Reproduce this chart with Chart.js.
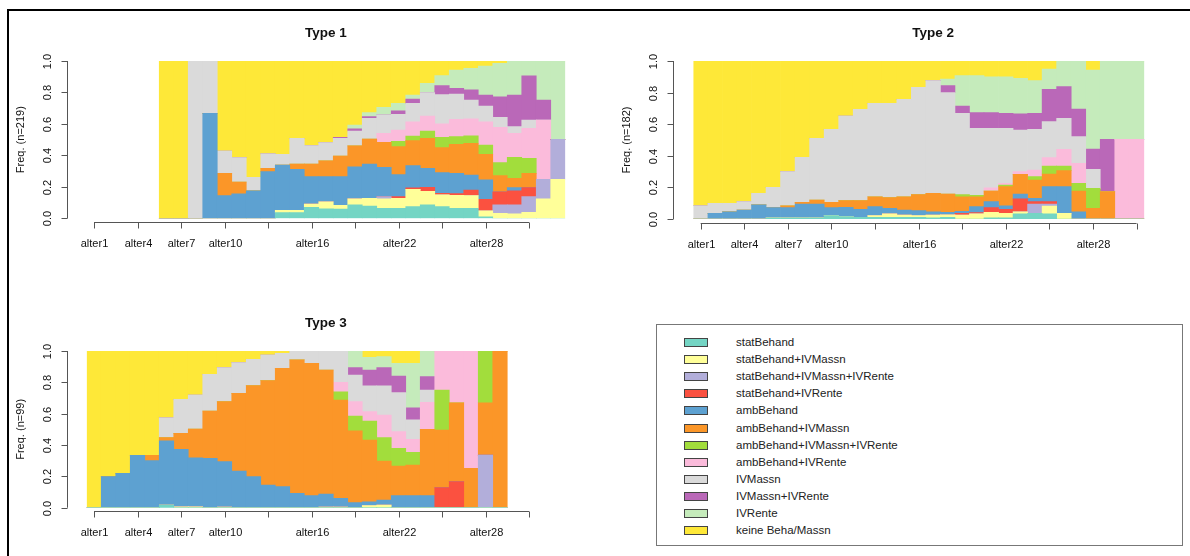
<!DOCTYPE html>
<html>
<head>
<meta charset="utf-8">
<script src="https://cdn.jsdelivr.net/npm/chart.js@4.4.1/dist/chart.umd.min.js"></script>
<style>
  body { margin: 0; width: 1190px; height: 556px; position: relative; background: #fff; overflow: hidden;
         font-family: "Liberation Sans", Arial, sans-serif; }
  #frame { position: absolute; left: 7px; top: 9px; right: -5px; bottom: -5px;
           border-top: 2px solid #000; border-left: 2px solid #000; }
  canvas { position: absolute; }
  #legend { position: absolute; left: 656px; top: 324px; width: 527px; height: 222px;
            border: 1px solid #777; box-sizing: border-box; }
  .item { position: absolute; left: 0; height: 16px; width: 100%; }
  .sw { position: absolute; left: 27px; top: 4px; width: 22px; height: 7px; border: 1px solid #444; }
  .tx { position: absolute; left: 79px; top: 0; font-size: 11.5px; line-height: 16px; color: #222; white-space: nowrap; }
</style>
</head>
<body>
<div id="frame"></div>
<canvas id="c1" width="595" height="280" style="left:0;top:0"></canvas>
<canvas id="c2" width="595" height="280" style="left:595px;top:0"></canvas>
<canvas id="c3" width="595" height="266" style="left:0;top:290px"></canvas>
<div id="legend"></div>

<script>
const positions = Array.from({length: 33}, (_, i) => 'alter' + (i + 1));
const shownLabels = ['alter1', 'alter4', 'alter7', 'alter10', 'alter16', 'alter22', 'alter28'];

const states = ['statBehand', 'statBehand+IVMassn', 'statBehand+IVMassn+IVRente', 'statBehand+IVRente',
  'ambBehand', 'ambBehand+IVMassn', 'ambBehand+IVMassn+IVRente', 'ambBehand+IVRente',
  'IVMassn', 'IVMassn+IVRente', 'IVRente', 'keine Beha/Massn'];
const stateColours = ['#74D5C4', '#FFFF99', '#B2AEDA', '#FB5140', '#5DA1D1', '#FB9628',
  '#A2DD3C', '#FBBBDB', '#DADADA', '#BA68B8', '#C5EBBB', '#FEE838'];

// Type 1 (n=219), positions alter1..alter33
const t1_stat         = [null,null,null,null,null, 0,0,0,0,0,0,0,0, .036,.036,.07,.06,.059,.085,.078,.064,.064,.074,.085,.074,.064,.064,.01, 0,0,0,0,0];
const t1_statMassn    = [null,null,null,null,null, 0,0,0,0,0,0,0,0, .014,.014,.021,.045,.024,.038,.049,.059,.063,.11,.087,.076,.082,.08,.037, .032,.028,.038,.123,.248];
const t1_statMassnRte = [null,null,null,null,null, 0,0,0,0,0,0,0,0,0,0,0,0,0,0,0, .015, 0,0,0,0,0,0,0, .053,.057,.1,.125,.254];
const t1_statRte      = [null,null,null,null,null, 0,0,0,0,0,0,0,0,0,0,0,0,0,0,0,0, .011,.009,.025,.009,.011,.036,.074,.084,.089,.057, 0,0];
const t1_amb          = [null,null,null,null,null, 0,0,0,.667,.144,.155,.174,.297,.289,.261,.174,.16,.182,.205,.218,.186,.14,.142,.121,.131,.129,.095,.123,0,.021,0,0,0];
const t1_ambMassn     = [null,null,null,null,null, 0,0,0,0, .142,.076,0,.021,0,.034,.08,.1,.131,.132,.159,.159,.178,.159,.19,.159,.184,.202,.163,.102,.059,.091, 0,0];
const t1_ambMassnRte  = [null,null,null,null,null, 0,0,0,0,0,0,0,0,0,0,0,0,0,0,0,0, .033,.029,.047,.066,.049,.048,.059,.083,.134,.095, 0,0];
const t1_ambRte       = [null,null,null,null,null, 0,0,0,0,0,0,0,0,0,0,0,0,0,0,0, .057,.072,.091,.095,.085,.11,.108,.148,.224,.152,.191,.377, 0];
const t1_massn        = [null,null,null,null,null, 0,0,1,.333,.142,.155,.086,.092,.068,.163,.117,.116,.112,.095,.132,.117,.1,.117,.149,.186,.161,.119,.1,.064,.043,.053,0,0];
const t1_massnRte     = [null,null,null,null,null, 0,0,0,0,0,0,0,0,0,0,0,0, .006,.013,.01,0,.023,.027,0,.057,.036,.064,.07,.131,.201,.28,.127, 0];
const t1_rente        = [null,null,null,null,null, 0,0,0,0,0,0,0,0,0,0,0,0,0, .025,.026,.048,.047,.026,.059,.064,.117,.137,.184,.212,.216,.095,.248,.498];
const t1_keine        = [null,null,null,null,null, 1,1,0,0,.572,.614,.74,.59,.593,.492,.538,.519,.486,.407,.328,.295,.269,.216,.142,.093,.057,.047,.032,.015,0,0,0,0];

// Type 2 (n=182)
const t2_stat         = [0,0,0,0,0,.008,.008,.008,.008,.021,.015,.01,.01,.01,.01,.01,.008,.01,0,0,.008,.008,.032,.036,.032,0,0,0,0,0,0,null,null];
const t2_statMassn    = [0,0,0,0,0,0,0,0,0,0,0,0, .011,.022,.015,.011,.017,.017,.025,.032,.034,.028,.014,0,.05,.036, 0,0,0,0,0,null,null];
const t2_statMassnRte = [0,0,0,0,0,0,0,0,0,0,0,0,0,0,0,0,0,0,0,0,0,0,0, .059,.013, 0,0,0,0,0,0,null,null];
const t2_statRte      = [0,0,0,0,0,0,0,0,0,0,0,0,0,0,0,0,0,0, .011,.008,.03,.025,.081,.015,.015, 0,0,0,0,0,0,null,null];
const t2_amb          = [0,.036,.046,.057,.089,.064,.064,.087,.087,.051,.059,.051,.057,.036,.032,.032,.021,.015,.013,.038,.038,.023,.031,.021,.095,.169,.046,0,0,0,0,null,null];
const t2_ambMassn     = [0,0,0,0,0,0, .012,.01,.025,.033,.042,.055,.063,.067,.084,.101,.116,.116,.092,.063,.067,.121,.125,.116,.08,.101,.131,.068,.173, 0,0,null,null];
const t2_ambMassnRte  = [0,0,0,0,0,0,0,0,0,0,0,0,0,0,0,0,0,0, .013,.009,0,.01,0,.021,.05,.029,.049,.126, 0,0,0,null,null];
const t2_ambRte       = [0,0,0,0,0,0,0,0,0,0,0,0,0,0,0,0,0,0,0,0, .021,.011,.017,.042,.053,.106,.126, 0,0,.504,.504,null,null];
const t2_massn        = [.084,.063,.053,.053,.073,.128,.216,.285,.39,.462,.536,.578,.591,.597,.616,.679,.714,.642,.515,.424,.376,.348,.263,.258,.228,.196,.169,.12,0,0,0,null,null];
const t2_massnRte     = [0,0,0,0,0,0,0,0,0,0,0,0,0,0,0,0,0, .044,.046,.099,.099,.095,.102,.101,.205,.201,.175,.129,.331, 0,0,null,null];
const t2_rente        = [0,0,0,0,0,0,0,0,0,0,0,0,0,0,0,0,0, .042,.192,.234,.227,.231,.225,.207,.128,.162,.304,.5,.496,.496,.496,null,null];
const t2_keine        = [.916,.901,.901,.89,.838,.8,.7,.61,.49,.433,.348,.306,.268,.268,.243,.167,.124,.114,.093,.093,.1,.1,.11,.124,.051,0,0,.057,0,0,0,null,null];

// Type 3 (n=99)
const t3_stat         = [0,0,0,0,0,.017,0,0,0,0,0,0,0,0,0,0,0,0,0,0,0,0,0,0,0,0,0,0,0,null,null,null,null];
const t3_statMassn    = [0,0,0,0,0,0,.006,.006,0,.004,0,0,0,0,0,0,.004,.004,0,.013,.017,0,0,0,0,0,0,0,0,null,null,null,null];
const t3_statMassnRte = [0,0,0,0,0,0,0,0,0,0,0,0,0,0,0,0,0,0,0,0,0,0,0,0,0,0,0,.336,0,null,null,null,null];
const t3_statRte      = [0,0,0,0,0,0,0,0,0,0,0,0,0,0,0,0,0,0,0,0,0,0,0,0,.128,.166,0,0,0,null,null,null,null];
const t3_amb          = [0,.198,.219,.334,.3,.409,.366,.313,.315,.29,.234,.198,.145,.134,.091,.077,.083,.056,.032,.025,.032,.077,.077,.077,0,0,0,0,0,null,null,null,null];
const t3_ambMassn     = [0,0,0,0,.034,.021,.102,.183,.302,.383,.496,.581,.666,.755,.852,.844,.792,.627,.459,.394,.249,.189,.195,.423,.368,.504,.251,.334,1,null,null,null,null];
const t3_ambMassnRte  = [0,0,0,0,0,0,0,0,0,0,0,0,0,0,0,0,0,.053,.094,.121,.149,.113,.081,0,.255,0,0,.33,0,null,null,null,null];
const t3_ambRte       = [0,0,0,0,0,0,0,0,0,0,0,0,0,0,0,0,0,.06,.092,.06,.144,.106,.083,.172,.249,.33,.749,0,0,null,null,null,null];
const t3_massn        = [0,0,0,0,0,.127,.217,.217,.234,.217,.196,.168,.163,.096,.057,.079,.121,.2,.17,.164,.186,.249,.124,.079,0,0,0,0,0,null,null,null,null];
const t3_massnRte     = [0,0,0,0,0,0,0,0,0,0,0,0,0,0,0,0,0,0,.047,.102,.117,.106,.078,.085,0,0,0,0,0,null,null,null,null];
const t3_rente        = [0,0,0,0,0,0,0,0,0,0,0,0,0,0,0,0,0,0,.106,.081,.07,.081,.283,.164,0,0,0,0,0,null,null,null,null];
const t3_keine        = [1,.802,.781,.666,.666,.426,.309,.281,.149,.106,.074,.053,.026,.015,0,0,0,0,0,.04,.036,.079,.079,0,0,0,0,0,0,null,null,null,null];

const FONT = '"Liberation Sans", Arial, sans-serif';

// R-style axes, title and y label drawn around the chart area
const rAxes = {
  id: 'rAxes',
  afterDraw(chart, args, opts) {
    const {ctx, chartArea: a, scales: {x, y}} = chart;
    ctx.save();
    ctx.strokeStyle = '#555';
    ctx.lineWidth = 1;
    ctx.fillStyle = '#111';

    ctx.font = 'bold 13.5px ' + FONT;
    ctx.textAlign = 'center';
    ctx.textBaseline = 'middle';
    ctx.fillText(opts.title, (a.left + a.right) / 2, a.top - 28);

    // y axis
    const ax = Math.round(a.left - 20) + 0.5;
    ctx.beginPath();
    ctx.moveTo(ax, y.getPixelForValue(0));
    ctx.lineTo(ax, y.getPixelForValue(1));
    ctx.stroke();
    ctx.font = '11px ' + FONT;
    [0, 0.2, 0.4, 0.6, 0.8, 1].forEach(v => {
      const py = Math.round(y.getPixelForValue(v)) + 0.5;
      ctx.beginPath();
      ctx.moveTo(ax, py);
      ctx.lineTo(ax - 6, py);
      ctx.stroke();
      ctx.save();
      ctx.translate(ax - 20, py);
      ctx.rotate(-Math.PI / 2);
      ctx.fillText(v.toFixed(1), 0, 0);
      ctx.restore();
    });
    ctx.save();
    ctx.translate(ax - 47, (a.top + a.bottom) / 2);
    ctx.rotate(-Math.PI / 2);
    ctx.fillText(opts.ylab, 0, 0);
    ctx.restore();

    // x axis: ticks every 3rd position, labels where they fit
    const ay = Math.round(a.bottom + 3.5) + 0.5;
    ctx.beginPath();
    ctx.moveTo(x.getPixelForValue(0), ay);
    ctx.lineTo(x.getPixelForValue(30), ay);
    ctx.stroke();
    for (let i = 0; i <= 30; i += 3) {
      const px = Math.round(x.getPixelForValue(i)) + 0.5;
      ctx.beginPath();
      ctx.moveTo(px, ay);
      ctx.lineTo(px, ay + 6);
      ctx.stroke();
      if (shownLabels.includes(positions[i])) {
        ctx.fillText(positions[i], px, ay + 21);
      }
    }
    ctx.restore();
  }
};

function makeChart(canvasId, series, title, ylab, pad) {
  new Chart(document.getElementById(canvasId), {
    type: 'bar',
    data: {
      labels: positions,
      datasets: series.map((d, i) => ({
        label: states[i],
        data: d,
        backgroundColor: stateColours[i],
        borderWidth: 0,
        barPercentage: 1,
        categoryPercentage: 1
      }))
    },
    options: {
      responsive: false,
      animation: false,
      events: [],
      layout: {padding: pad},
      scales: {
        x: {stacked: true, display: false},
        y: {stacked: true, display: false, min: 0, max: 1}
      },
      plugins: {
        legend: {display: false},
        tooltip: {enabled: false},
        rAxes: {title: title, ylab: ylab}
      }
    },
    plugins: [rAxes]
  });
}

makeChart('c1', [t1_stat, t1_statMassn, t1_statMassnRte, t1_statRte, t1_amb, t1_ambMassn,
  t1_ambMassnRte, t1_ambRte, t1_massn, t1_massnRte, t1_rente, t1_keine],
  'Type 1', 'Freq. (n=219)', {left: 86.75, right: 29.75, top: 61, bottom: 61.7});

makeChart('c2', [t2_stat, t2_statMassn, t2_statMassnRte, t2_statRte, t2_amb, t2_ambMassn,
  t2_ambMassnRte, t2_ambRte, t2_massn, t2_massnRte, t2_rente, t2_keine],
  'Type 2', 'Freq. (n=182)', {left: 98.4, right: 17.1, top: 61, bottom: 61});

makeChart('c3', [t3_stat, t3_statMassn, t3_statMassnRte, t3_statRte, t3_amb, t3_ambMassn,
  t3_ambMassnRte, t3_ambRte, t3_massn, t3_massnRte, t3_rente, t3_keine],
  'Type 3', 'Freq. (n=99)', {left: 86.75, right: 29.75, top: 61, bottom: 48.3});

// legend box
const legend = document.getElementById('legend');
states.forEach((s, i) => {
  const row = document.createElement('div');
  row.className = 'item';
  row.style.top = (9.3 + 17.04 * i) + 'px';
  row.innerHTML = '<div class="sw" style="background:' + stateColours[i] + '"></div><div class="tx"></div>';
  row.querySelector('.tx').textContent = s;
  legend.appendChild(row);
});
</script>
</body>
</html>
